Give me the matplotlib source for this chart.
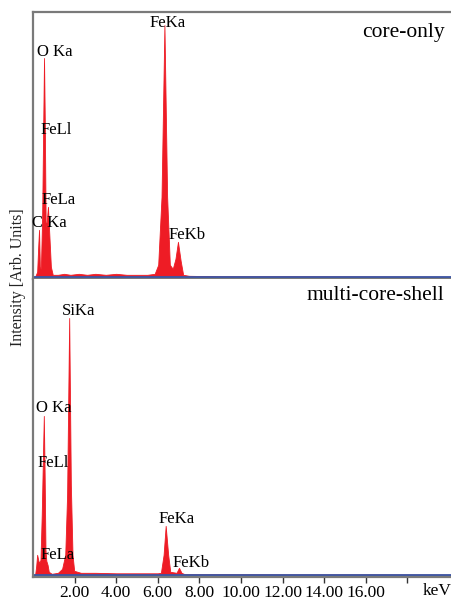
import matplotlib
matplotlib.use("Agg")
import matplotlib.pyplot as plt
import matplotlib.transforms as mtransforms

plt.rcParams['font.family'] = ['Liberation Serif', 'DejaVu Serif']

# EDX spectra, energy in keV, intensity in arbitrary units
core_keV = [0.00, 0.10, 0.20, 0.25, 0.29, 0.33, 0.38, 0.44, 0.49, 0.53, 0.57, 0.61,
            0.66, 0.72, 0.79, 0.86, 0.95, 1.20, 1.50, 1.80, 2.20, 2.60, 3.00, 3.50,
            4.00, 4.50, 5.00, 5.50, 5.85, 6.02, 6.18, 6.32, 6.45, 6.58, 6.72, 6.85,
            6.97, 7.10, 7.22, 7.50, 9.00, 12.0, 16.0, 20.1]
core_int = [0, 0, 5, 30, 47, 10, 8, 60, 150, 219, 150, 50,
            55, 70, 40, 10, 2, 2, 3, 2, 3, 2, 3, 2,
            3, 2, 2, 2, 3, 12, 80, 252, 80, 12, 8, 18,
            35, 16, 2, 1, 0.5, 0.5, 0.3, 0]

shell_keV = [0.00, 0.10, 0.15, 0.20, 0.26, 0.30, 0.36, 0.42, 0.48, 0.52, 0.56, 0.60,
             0.64, 0.70, 0.76, 0.90, 1.20, 1.40, 1.55, 1.64, 1.74, 1.82, 1.90, 1.98,
             2.30, 3.00, 4.00, 5.00, 6.00, 6.15, 6.28, 6.38, 6.50, 6.60, 6.90, 7.02,
             7.14, 7.30, 9.00, 12.0, 16.0, 20.1]
shell_int = [0, 0, 8, 20, 14, 12, 15, 60, 120, 159, 100, 25,
             14, 10, 3, 1, 2, 6, 20, 80, 257, 90, 20, 4,
             2, 2, 1.5, 1.5, 1.5, 2, 20, 49, 20, 3, 2, 7,
             2, 0.5, 0.5, 0.3, 0.3, 0]

# peak labels: (text, keV, intensity)
core_labels = [("O Ka", 0.19, 225), ("FeLl", 0.34, 147), ("FeLa", 0.43, 77),
               ("C Ka", -0.05, 54), ("FeKa", 5.59, 254), ("FeKb", 6.50, 42)]
shell_labels = [("SiKa", 1.40, 264), ("O Ka", 0.14, 167), ("FeLl", 0.24, 112),
                ("FeLa", 0.34, 20), ("FeKa", 6.02, 56), ("FeKb", 6.70, 12)]

tick_pos = [2, 4, 6, 8, 10, 12, 14, 16, 18]
tick_lbl = ["2.00", "4.00", "6.00", "8.00", "10.00", "12.00", "14.00", "16.00", "keV"]

RED = "#ee1c25"
BLUE = "#3a56a6"
GRAY = "#7a7a7a"

fig = plt.figure(figsize=(4.51, 6.01), dpi=100)
ax1 = fig.add_axes([33 / 451, 322 / 601, 1 - 33 / 451, 267 / 601])
ax2 = fig.add_axes([33 / 451, 24 / 601, 1 - 33 / 451, 298 / 601])


def draw(ax, keV, inten, labels, name, ytop, name_y):
    ax.fill_between(keV, 0, inten, color=RED, lw=0.6, edgecolor=RED)
    ax.plot([0, 20.1], [0, 0], color=BLUE, lw=2.0)
    ax.set_xlim(0, 20.1)
    ax.set_ylim(-2.2, ytop)
    for txt, x, y in labels:
        ax.text(x, y, txt, fontsize=12, ha="left", va="center")
    ax.text(0.985, name_y, name, transform=ax.transAxes, fontsize=15.5,
            ha="right", va="center")
    ax.set_yticks([])
    ax.set_xticks(tick_pos)
    ax.tick_params(axis="x", direction="out", length=4, width=1, color="#333333",
                   labelsize=12.5, pad=2)
    ax.spines["right"].set_visible(False)
    for s in ["left", "top", "bottom"]:
        ax.spines[s].set_color(GRAY)
        ax.spines[s].set_linewidth(1.6)


draw(ax1, core_keV, core_int, core_labels, "core-only", 265, 0.925)
draw(ax2, shell_keV, shell_int, shell_labels, "multi-core-shell", 296, 0.946)

ax1.set_xticklabels([])
ax2.spines["top"].set_visible(False)
ax2.set_xticklabels(tick_lbl)

# the unit sits right of the last tick, slightly raised
for lab in ax2.get_xticklabels():
    if lab.get_text() == "keV":
        off = mtransforms.ScaledTranslation(0.30, 0.02, fig.dpi_scale_trans)
        lab.set_transform(lab.get_transform() + off)

fig.text(18 / 451, 1 - 277 / 601, "Intensity [Arb. Units]", rotation=90,
         fontsize=11.5, ha="center", va="center", color="#222222")

fig.savefig("out.png", dpi=100)
